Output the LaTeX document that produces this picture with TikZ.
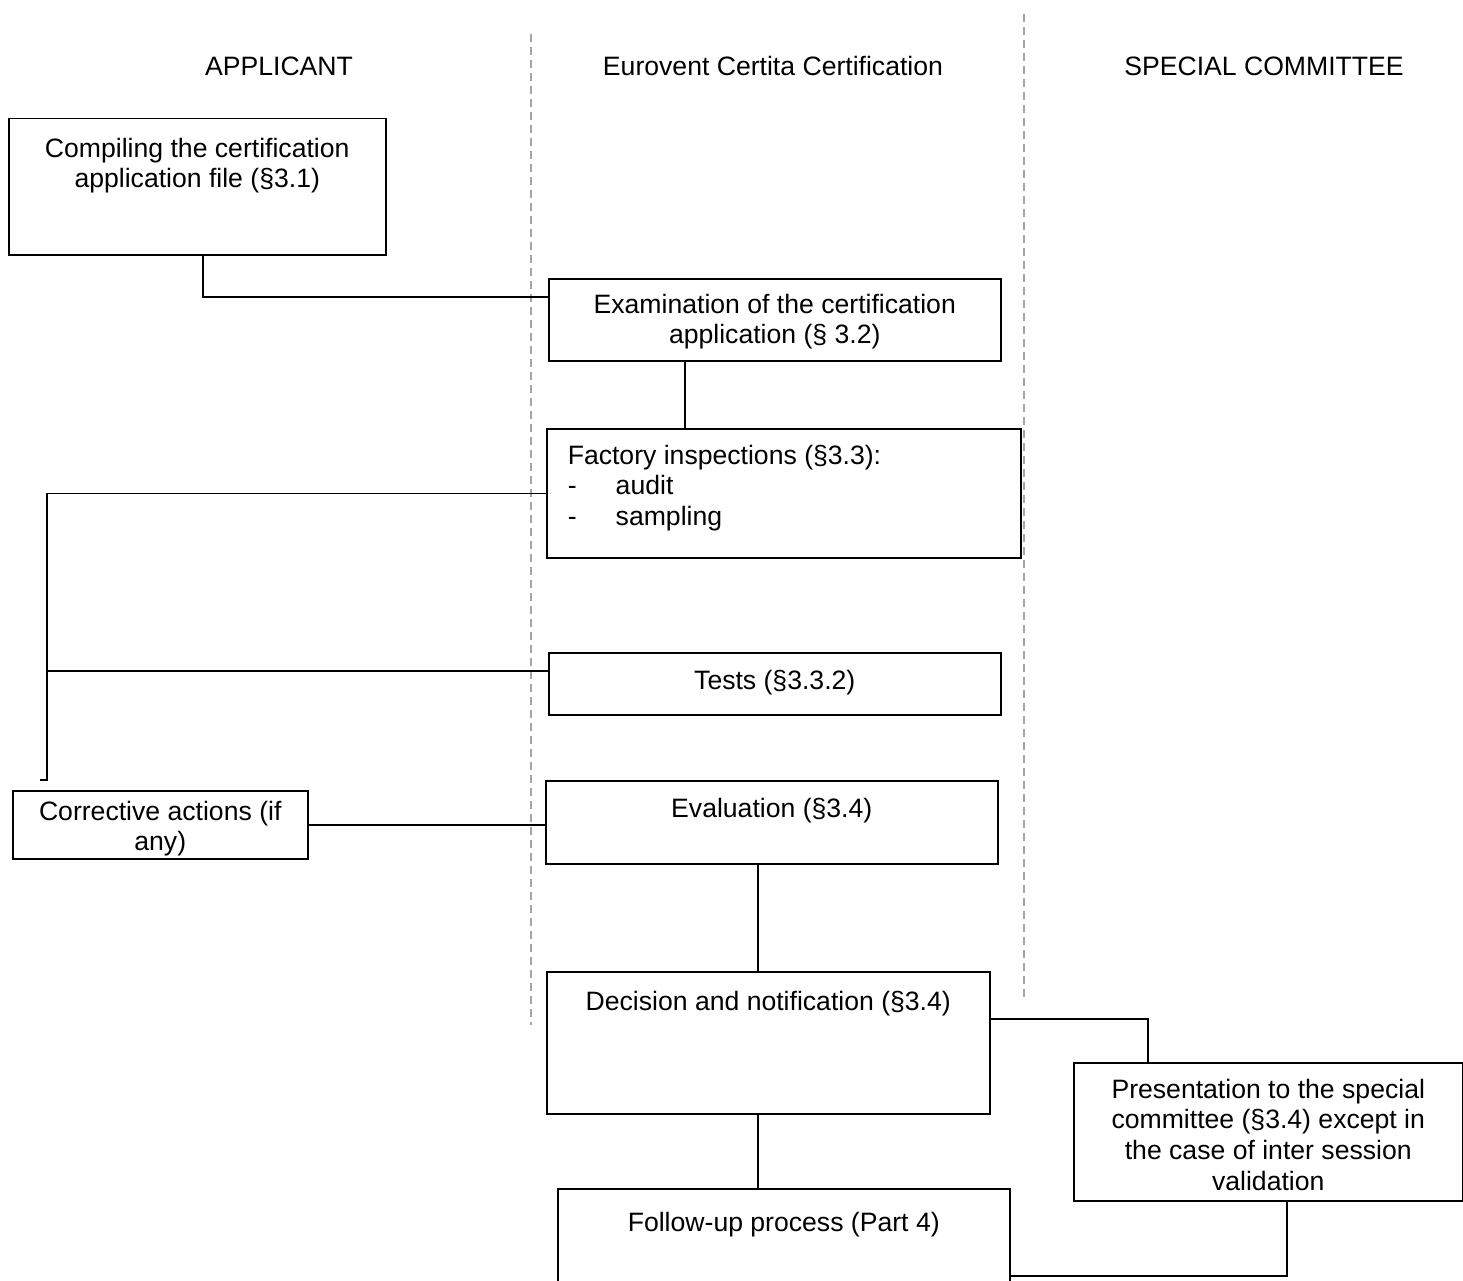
\documentclass[tikz,border=0pt]{standalone}
\usepackage{fontspec}
\setmainfont{Liberation Sans}
\usetikzlibrary{calc}
\definecolor{lanegray}{RGB}{165,165,165}
\newcommand\boxtxt[4]{\parbox[c][#2pt][t]{#1pt}{\centering\vspace*{\dimexpr#3pt-21.42pt\relax}\strut#4\par}}
\begin{document}
\begin{tikzpicture}[x=1pt,y=-1pt,
  every node/.style={font=\fontsize{26.6}{30.6}\selectfont, inner sep=0pt},
  box/.style={draw, line width=1.5pt, anchor=north west},
  link/.style={line width=1.5pt},
  lane/.style={draw=lanegray, line width=1.3pt, dash pattern=on 8pt off 5pt}]
\clip (0,0) rectangle (1463,1281);
\fill[white] (0,0) rectangle (1463,1281);
% swimlane separators
\draw[lane] (531,34) -- (531,1025);
\draw[lane] (1024,14) -- (1024,1001);
% headers
\node[anchor=base] (hA) at (279,75.5) {APPLICANT};
\node[anchor=base] (hE) at (773,75.5) {Eurovent Certita Certification};
\node[anchor=base] (hS) at (1264,75.5) {SPECIAL COMMITTEE};
% boxes
\node[box] (b1) at (8,118) {\boxtxt{377}{136}{38.5}{Compiling the certification\\application file (§3.1)}};
\node[box] (b2) at (548,278) {\boxtxt{452}{82}{34.5}{Examination of the certification\\application (§ 3.2)}};
\node[box] (b3) at (546,428) {\parbox[c][129pt][t]{474pt}{\raggedright\vspace*{\dimexpr35.5pt-21.42pt\relax}\strut\hspace*{21pt}Factory inspections (§3.3):\\\hspace*{21pt}\makebox[48pt][l]{-}audit\\\hspace*{21pt}\makebox[48pt][l]{-}sampling\par}};
\node[box] (tests) at (548,652) {\boxtxt{452}{62}{36.5}{Tests (§3.3.2)}};
\node[box] (corr) at (12,790) {\boxtxt{295}{68}{29.5}{Corrective actions (if\\any)}};
\node[box] (ev) at (545,780) {\boxtxt{452}{83}{36.5}{Evaluation (§3.4)}};
\node[box] (dec) at (546,971) {\boxtxt{443}{142}{38.5}{Decision and notification (§3.4)}};
\node[box] (pres) at (1073,1062) {\boxtxt{389}{138}{35.5}{Presentation to the special\\committee (§3.4) except in\\the case of inter session\\validation}};
\node[box] (fu) at (557,1188) {\boxtxt{452}{174}{42.5}{Follow-up process (Part 4)}};
% helper coordinates
\coordinate (c1a) at ([xshift=5.5pt]b1.south);
\coordinate (c1b) at ([yshift=23pt]b2.west);
\coordinate (c2a) at ([xshift=-90pt]b2.south);
\coordinate (bend) at (47,780);
\coordinate (hook) at (40,780);
\coordinate (tj) at ([yshift=13pt]tests.west);
\coordinate (e1) at ([xshift=-14pt]ev.south);
\coordinate (d1) at ([xshift=-10.5pt]dec.south);
\coordinate (d2) at ([yshift=24pt]dec.east);
\coordinate (p1) at ([xshift=-120.5pt]pres.north);
\coordinate (p2) at ([xshift=18.5pt]pres.south);
% connectors
\draw[link] (c1a) |- (c1b);
\draw[link] (c2a) -- (c2a |- b3.north);
\draw[link] (b3.west) -| (bend) -- (hook);
\draw[link] (tj) -- (tj -| bend);
\draw[link] (corr.east) -- (corr.east -| ev.west);
\draw[link] (e1) -- (e1 |- dec.north);
\draw[link] (d1) -- (d1 |- fu.north);
\draw[link] (d2) -| (p1);
\draw[link] (p2) |- (fu.east);
\end{tikzpicture}
\end{document}
